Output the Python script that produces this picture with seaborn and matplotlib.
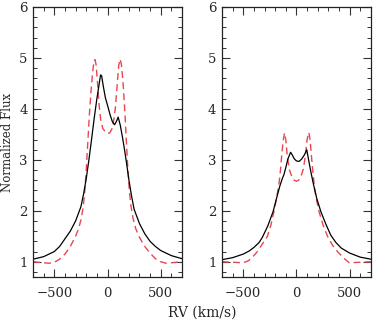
import numpy as np
import matplotlib
matplotlib.use("Agg")
import matplotlib.pyplot as plt
import seaborn as sns
from matplotlib.ticker import MultipleLocator

# --- data ---
# left panel, solid black (observed)
rv_left_obs = [-700, -600, -500, -450, -400, -350, -300, -250, -225, -200, -175, -150, -125, -100,
               -80, -65, -55, -40, -20, 3, 25, 44, 66, 85, 100, 120, 140, 160, 180, 200, 225,
               250, 300, 350, 400, 450, 500, 600, 700]
flux_left_obs = [1.05, 1.10, 1.20, 1.30, 1.45, 1.60, 1.80, 2.08, 2.33, 2.63, 3.00, 3.40, 3.82, 4.20,
                 4.47, 4.67, 4.65, 4.45, 4.22, 4.05, 3.88, 3.76, 3.69, 3.76, 3.84, 3.68, 3.45, 3.20,
                 2.92, 2.62, 2.30, 2.03, 1.75, 1.55, 1.40, 1.30, 1.22, 1.12, 1.06]

# left panel, dashed red (model)
rv_left_mod = [-700, -600, -550, -500, -450, -400, -350, -300, -270, -250, -230, -215, -200, -185,
               -170, -155, -140, -128, -118, -108, -95, -80, -65, -45, -20, 0, 20, 40, 60, 75,
               90, 105, 118, 130, 145, 160, 175, 190, 205, 220, 240, 265, 300, 350, 400, 450,
               500, 550, 600, 700]
flux_left_mod = [1.00, 0.98, 0.97, 0.99, 1.05, 1.15, 1.30, 1.50, 1.66, 1.82, 2.05, 2.35, 2.80, 3.35,
                 3.90, 4.35, 4.72, 4.92, 4.97, 4.88, 4.55, 4.10, 3.80, 3.62, 3.55, 3.52, 3.53, 3.60,
                 3.80, 4.05, 4.45, 4.85, 4.98, 4.88, 4.55, 4.05, 3.45, 2.85, 2.40, 2.10, 1.85, 1.65,
                 1.48, 1.30, 1.17, 1.06, 1.00, 0.97, 0.98, 1.00]

# right panel, solid black (observed)
rv_right_obs = [-700, -600, -500, -445, -400, -350, -320, -270, -220, -190, -157, -135, -116, -100,
                -80, -55, -40, -20, 0, 25, 50, 75, 97, 110, 125, 140, 160, 190, 230, 280, 323,
                370, 420, 500, 600, 700]
flux_right_obs = [1.04, 1.08, 1.15, 1.21, 1.28, 1.38, 1.48, 1.70, 1.98, 2.22, 2.48, 2.62, 2.72, 2.85,
                  3.02, 3.15, 3.10, 3.02, 2.98, 2.97, 3.02, 3.10, 3.20, 3.05, 2.88, 2.72, 2.52, 2.25,
                  1.98, 1.72, 1.52, 1.38, 1.27, 1.17, 1.09, 1.05]

# right panel, dashed red (model)
rv_right_mod = [-700, -600, -500, -450, -400, -367, -320, -273, -240, -210, -185, -163, -150, -140,
                -125, -112, -100, -85, -65, -40, -20, 0, 20, 40, 65, 85, 100, 116, 128, 142, 155,
                170, 190, 213, 250, 292, 340, 385, 440, 495, 600, 700]
flux_right_mod = [1.00, 0.99, 0.98, 1.02, 1.12, 1.20, 1.35, 1.50, 1.72, 2.00, 2.27, 2.55, 2.80, 3.05,
                  3.38, 3.53, 3.40, 3.05, 2.80, 2.65, 2.60, 2.58, 2.60, 2.66, 2.82, 3.10, 3.40, 3.54,
                  3.40, 3.05, 2.75, 2.45, 2.20, 1.98, 1.72, 1.50, 1.32, 1.20, 1.08, 0.98, 0.99, 1.00]

sns.set_style("ticks")
plt.rcParams['font.family'] = ['DejaVu Serif']
plt.rcParams['mathtext.fontset'] = 'dejavuserif'

fig = plt.figure(figsize=(3.73, 3.24), dpi=100)
ax1 = fig.add_axes([0.0885, 0.145, 0.3995, 0.833])
ax2 = fig.add_axes([0.595, 0.145, 0.3995, 0.833])

red = '#e8474f'
panels = [(ax1, rv_left_obs, flux_left_obs, rv_left_mod, flux_left_mod),
          (ax2, rv_right_obs, flux_right_obs, rv_right_mod, flux_right_mod)]

for ax, xo, yo, xm, ym in panels:
    sns.lineplot(x=xm, y=ym, ax=ax, color=red, linestyle='--', linewidth=1.0,
                 estimator=None, sort=False)
    ax.lines[-1].set_dashes([5, 3])
    sns.lineplot(x=xo, y=yo, ax=ax, color='black', linewidth=0.9,
                 estimator=None, sort=False)
    ax.set_xlim(-700, 700)
    ax.set_ylim(0.7, 6.0)
    ax.xaxis.set_major_locator(MultipleLocator(500))
    ax.xaxis.set_minor_locator(MultipleLocator(100))
    ax.yaxis.set_major_locator(MultipleLocator(1))
    ax.yaxis.set_minor_locator(MultipleLocator(0.2))
    ax.tick_params(which='both', direction='in', top=True, right=True, labelsize=9.5, color='#333333')
    ax.tick_params(which='major', length=5.5, width=0.8, pad=4)
    ax.tick_params(axis='x', which='major', pad=7)
    ax.tick_params(which='minor', length=2.8, width=0.7)
    for s in ax.spines.values():
        s.set_linewidth(0.9)
        s.set_color('#222222')
    ax.set_xlabel('')
    ax.set_ylabel('')

ax1.set_ylabel('Normalized Flux', fontsize=8.5)
ax1.yaxis.set_label_coords(-0.125, 0.5)
fig.text(0.542, 0.035, 'RV (km/s)', ha='center', va='center', fontsize=10)

fig.savefig('out.png', dpi=100)
